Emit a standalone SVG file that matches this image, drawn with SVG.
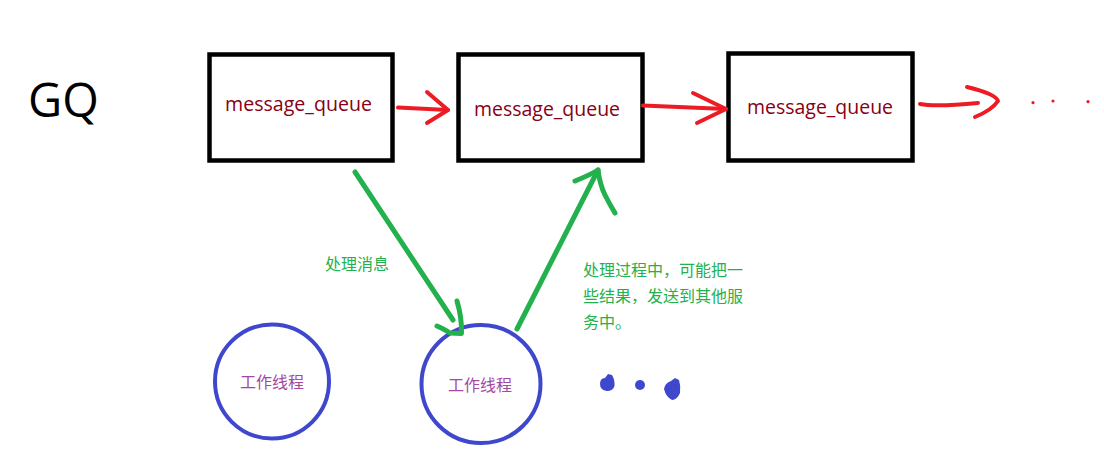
<svg xmlns="http://www.w3.org/2000/svg" width="1104" height="456" viewBox="0 0 1104 456">
<style>
.box{fill:#fff;stroke:#000;stroke-width:4.5}
.mq{font-family:"Open Sans","Noto Sans",sans-serif;font-size:19.5px;fill:#880015}
.red{fill:none;stroke:#ed1c24;stroke-width:4;stroke-linecap:round;stroke-linejoin:round}
.green{fill:none;stroke:#22b14c;stroke-width:5;stroke-linecap:round;stroke-linejoin:round}
.circ{fill:#fff;stroke:#3f48cc;stroke-width:4}
.cn{font-family:"Noto Sans CJK SC","Noto Sans",sans-serif;font-size:16px}
.thr{fill:#a349a4}
.gt{fill:#22b14c}
.blob{fill:#3f48cc}
</style>
<rect width="1104" height="456" fill="#fff"/>
<text x="28" y="117" font-family="Open Sans,Noto Sans,sans-serif" font-size="47" fill="#000">GQ</text>
<g id="mq1">
<rect class="box" x="209.5" y="54.5" width="183" height="106"/>
<text class="mq" x="225" y="111" textLength="147" lengthAdjust="spacingAndGlyphs">message_queue</text>
</g>
<g id="mq2">
<rect class="box" x="458.5" y="54.5" width="184" height="106"/>
<text class="mq" x="474" y="116" textLength="146" lengthAdjust="spacingAndGlyphs">message_queue</text>
</g>
<g id="mq3">
<rect class="box" x="728.5" y="53.5" width="184" height="107"/>
<text class="mq" x="747" y="114" textLength="146" lengthAdjust="spacingAndGlyphs">message_queue</text>
</g>
<g id="thread1">
<circle class="circ" cx="272" cy="381.5" r="57"/>
<text class="cn thr" x="272" y="387.5" text-anchor="middle">工作线程</text>
</g>
<g id="thread2">
<ellipse class="circ" cx="481" cy="384" rx="59.5" ry="59"/>
<text class="cn thr" x="480" y="391" text-anchor="middle">工作线程</text>
</g>
<g id="more-threads">
<path class="blob" d="M600,384 Q600,378 605,378 L608,374 L612,375 Q615,380 614.5,386 Q613,391 607,391 Q600,390 600,384 Z"/>
<circle class="blob" cx="640" cy="385" r="5"/>
<path class="blob" d="M664,389 Q665,383 671,381 L675,378 L679,380 Q681,386 680,393 Q677,400 672,400 Q666,397 664,389 Z"/>
</g>
<g id="connectors">
<path class="red" d="M398,107.5 L448,110"/>
<path class="red" d="M427,92 L448,110 L427,123"/>
<path class="red" d="M643,105.5 L726,109"/>
<path class="red" d="M693,93 L726,109 L697,123"/>
<path class="red" d="M920,104 Q935,107 978,103"/>
<path class="red" d="M967,87 Q996,94 998,101 Q992,110 975,117"/>
<circle cx="1033" cy="102.7" r="1.6" fill="#ed1c24"/>
<circle cx="1053" cy="101" r="1.6" fill="#ed1c24"/>
<circle cx="1088" cy="101.7" r="1.6" fill="#ed1c24"/>
<path class="green" d="M355,172 L453,320"/>
<path class="green" d="M457,301 Q462,318 461.5,333.5 L450,333 Q442,328 437,326"/>
<path class="green" d="M517,329 L598,170"/>
<path class="green" d="M575,181 Q590,175 598,170 Q600,185 605,195 Q610,205 615,213"/>
</g>
<g id="labels">
<text class="cn gt" x="325" y="270">处理消息</text>
<text class="cn gt" x="583" y="276">处理过程中，可能把一</text>
<text class="cn gt" x="583" y="302">些结果，发送到其他服</text>
<text class="cn gt" x="583" y="328">务中。</text>
</g>
</svg>
